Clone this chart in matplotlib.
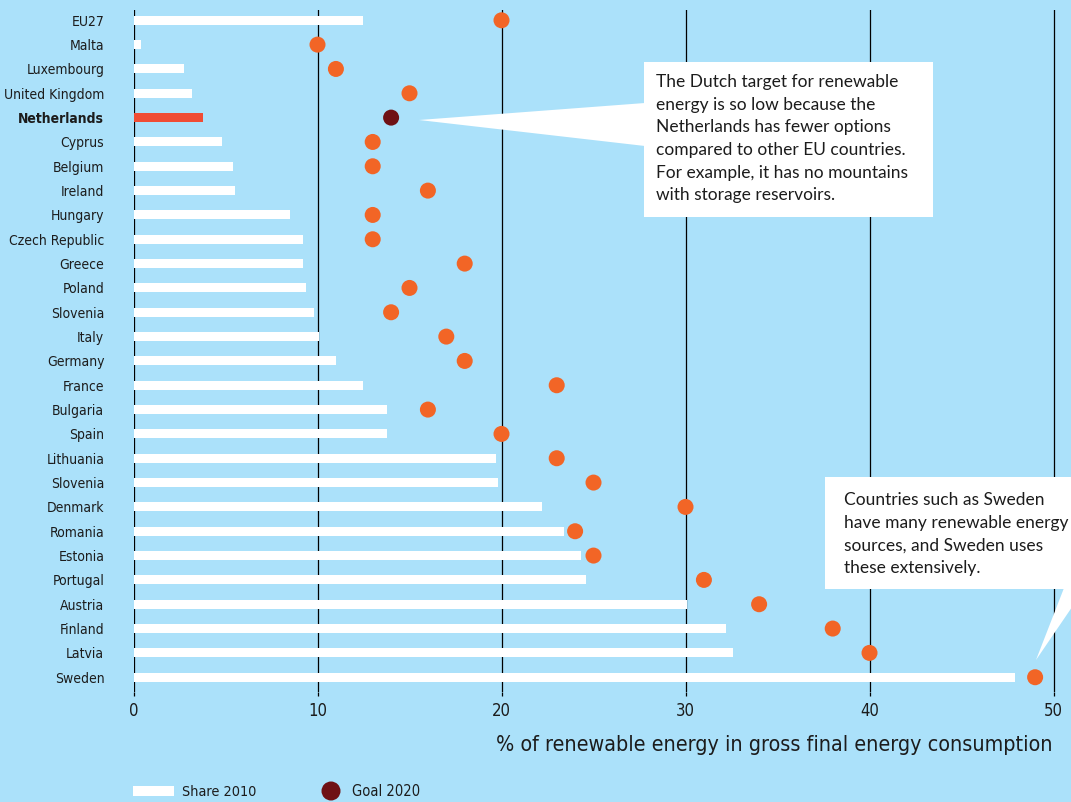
import os
import numpy as np
import matplotlib
matplotlib.use("Agg")
import matplotlib.pyplot as plt
from matplotlib import font_manager
from matplotlib.font_manager import FontProperties
from matplotlib.patches import Polygon, Rectangle, Circle

# data
countries = ["EU27", "Malta", "Luxembourg", "United Kingdom", "Netherlands",
             "Cyprus", "Belgium", "Ireland", "Hungary", "Czech Republic",
             "Greece", "Poland", "Slovenia", "Italy", "Germany", "France",
             "Bulgaria", "Spain", "Lithuania", "Slovenia", "Denmark",
             "Romania", "Estonia", "Portugal", "Austria", "Finland",
             "Latvia", "Sweden"]
share_2010 = [12.45, 0.4, 2.75, 3.2, 3.8, 4.8, 5.4, 5.5, 8.5, 9.2,
              9.2, 9.4, 9.8, 10.1, 11.0, 12.45, 13.8, 13.8, 19.7, 19.8,
              22.2, 23.4, 24.3, 24.6, 30.1, 32.2, 32.6, 47.9]
goal_2020 = [20, 10, 11, 15, 14, 13, 13, 16, 13, 13,
             18, 15, 14, 17, 18, 23, 16, 20, 23, 25,
             30, 24, 25, 31, 34, 38, 40, 49]
x_ticks = [0, 10, 20, 30, 40, 50]
highlight = "Netherlands"

note_nl = ("The Dutch target for renewable\nenergy is so low because the\n"
           "Netherlands has fewer options\ncompared to other EU countries.\n"
           "For example, it has no mountains\nwith storage reservoirs.")
note_se = ("Countries such as Sweden\nhave many renewable energy\n"
           "sources, and Sweden uses\nthese extensively.")

bg = "#abe1fa"
orange = "#f26526"
nl_red = "#f04c34"
dark_red = "#6f1114"
ink = "#1c1c1c"


def find_narrow(bold=False):
    # look for any condensed / narrow face on the system
    skip = ("italic", "oblique", "light", "thin", "semi", "medium", "black", "extra")
    for f in font_manager.fontManager.ttflist:
        name = os.path.basename(f.fname).lower()
        if not ("condensed" in name or "narrow" in name):
            continue
        if any(s in name for s in skip):
            continue
        if ("bold" in name) == bold:
            return f.fname
    return None


reg_file, bold_file = find_narrow(False), find_narrow(True)


def narrow(size, bold=False):
    fn = bold_file if bold else reg_file
    if fn:
        return FontProperties(fname=fn, size=size)
    return FontProperties(family="Roboto", size=size * 0.9,
                          weight="bold" if bold else "normal")


body = ["Lato", "DejaVu Sans"]

W, H = 1071, 802
fig = plt.figure(figsize=(W / 100, H / 100), dpi=100)
fig.patch.set_facecolor(bg)
ax = fig.add_axes([133.5 / W, 110 / H, 1 - 133.5 / W, 682 / H])
ax.set_facecolor(bg)

y = np.arange(len(countries))
bar_cols = [nl_red if c == highlight else "white" for c in countries]
dot_cols = [dark_red if c == highlight else orange for c in countries]
ax.barh(y, share_2010, height=0.37, color=bar_cols, zorder=3)
ax.scatter(goal_2020, y, s=133, color=dot_cols, linewidths=0, zorder=4)

for v in x_ticks:
    ax.axvline(v, color="black", lw=0.9, zorder=1)

ax.set_xlim(0, 50.95)
ax.set_ylim(27.607, -0.423)
ax.set_xticks(x_ticks, [str(t) for t in x_ticks])
ax.set_yticks(y, countries)
ax.tick_params(axis="x", length=3, width=0.9, color="black", pad=4, labelcolor=ink)
ax.tick_params(axis="y", length=0, pad=21, labelcolor=ink)
for lab in ax.get_xticklabels():
    lab.set_fontproperties(narrow(12))
for lab in ax.get_yticklabels():
    lab.set_fontproperties(narrow(10, bold=(lab.get_text() == highlight)))
for s in ax.spines.values():
    s.set_visible(False)

# overlay in pixel coordinates for callouts and legend
ov = fig.add_axes([0, 0, 1, 1], zorder=5)
ov.set_xlim(0, W)
ov.set_ylim(H, 0)
ov.axis("off")

ov.add_patch(Rectangle((644, 62), 289, 155, color="white", lw=0))
ov.add_patch(Polygon([(419, 120), (645, 103), (645, 146)], color="white", lw=0))
ov.text(656, 74, note_nl, family=body, fontsize=12.5, color=ink, va="top",
        ha="left", linespacing=1.51)

ov.add_patch(Rectangle((825, 477), 260, 112, color="white", lw=0))
ov.add_patch(Polygon([(1036, 660), (1064, 588), (1085, 588)], color="white", lw=0))
ov.text(844, 492, note_se, family=body, fontsize=12.5, color=ink, va="top",
        ha="left", linespacing=1.51)

ov.text(1053, 745, "% of renewable energy in gross final energy consumption",
        fontproperties=narrow(15.4), color=ink, ha="right", va="center")

# legend
ov.add_patch(Rectangle((133, 786), 41, 10, color="white", lw=0))
ov.text(182, 792, "Share 2010", fontproperties=narrow(10.4), color=ink, va="center")
ov.add_patch(Circle((331, 791), 9.5, color=dark_red, lw=0))
ov.text(352, 792, "Goal 2020", fontproperties=narrow(10.5), color=ink, va="center")

fig.savefig("out.png", dpi=100, facecolor=bg)
